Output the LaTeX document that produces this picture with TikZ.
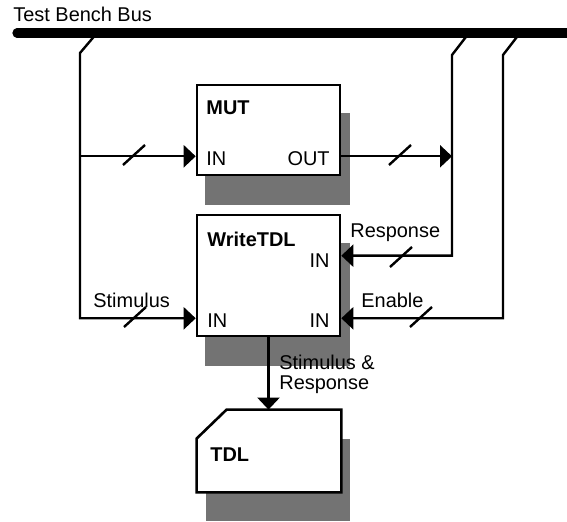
\documentclass[tikz,border=0pt]{standalone}
\usepackage{fontspec}
\setmainfont{Liberation Sans}
\usetikzlibrary{arrows.meta,calc,backgrounds}

\tikzset{
  block/.style={draw, fill=white, rectangle, inner sep=0pt, line width=1.3bp},
  shadowfill/.style={fill=black!55},
  wire/.style={line width=1.2bp},
  sig/.style={wire, -{Triangle[length=6bp,width=11bp]}},
  lbl/.style={anchor=base west, inner sep=0pt, font=\fontsize{10}{10.5}\selectfont},
  blockname/.style={lbl, font=\fontsize{10}{10.5}\selectfont\bfseries},
  buswidth/.pic={\draw[wire] (-5.5bp,-5bp) -- (5.5bp,5bp);}
}

\begin{document}
\begin{tikzpicture}[x=0.5bp, y=0.5bp]
  \useasboundingbox (0,0) rectangle (567,522);
  % test bench bus
  \coordinate (busL) at (17,489);
  \coordinate (busR) at (567,489);
  \draw[line width=4.6bp, line cap=round] (busL) -- (busR);
  \node[lbl] (buslbl) at (13,500) {Test Bench Bus};

  % blocks
  \node[block, minimum width=71.5bp, minimum height=45bp] (mut) at (268.5,392) {};
  \node[block, minimum width=71.5bp, minimum height=60.5bp] (wtdl) at (268.5,246.5) {};
  \node[inner sep=0pt, minimum width=72bp, minimum height=41bp] (tdl) at (269,71) {};
  % file shape with cut corner
  \filldraw[block] (tdl.south west) -- ($(tdl.north west)+(0,-29)$)
    -- ($(tdl.north west)+(30,0)$) -- (tdl.north east) -- (tdl.south east) -- cycle;

  % drop shadows
  \begin{scope}[on background layer]
    \foreach \b in {mut,wtdl,tdl}
      \fill[shadowfill] ([shift={(9,-29)}]\b.south west) rectangle ([shift={(9,-29)}]\b.north east);
  \end{scope}

  % block texts
  \node[blockname] (mutlbl) at (206,407) {MUT};
  \node[lbl] (mutin) at (206,356) {IN};
  \node[lbl, anchor=base east] (mutout) at (330,356) {OUT};
  \node[blockname] (wtdllbl) at (207,275) {WriteTDL};
  \node[lbl, anchor=base east] (wrespin) at (330,254) {IN};
  \node[lbl] (wstimin) at (207,194) {IN};
  \node[lbl, anchor=base east] (wenin) at (330,194) {IN};
  \node[blockname] (tdllbl) at (210,60) {TDL};

  % ports and bus taps
  \coordinate (mutIn) at ($(mut.south west)+(0,20)$);
  \coordinate (mutOut) at ($(mut.south east)+(0,20)$);
  \coordinate (respIn) at ($(wtdl.north east)+(0,-42)$);
  \coordinate (enIn) at ($(wtdl.south east)+(0,19)$);
  \coordinate (stimIn) at ($(wtdl.south west)+(0,19)$);
  \coordinate (tapS) at (97,489);
  \coordinate (tapR) at (469,489);
  \coordinate (tapE) at (520,489);
  \coordinate (dropS) at ($(tapS)+(-17,-20)$);
  \coordinate (dropR) at ($(tapR)+(-17,-22)$);
  \coordinate (dropE) at ($(tapE)+(-17,-22)$);

  % signals
  \draw[sig] (tapS) -- (dropS) |- (stimIn);
  \draw[sig] (dropS |- mutIn) -- (mutIn);
  \draw[sig] (mutOut) -- (dropR |- mutOut);
  \draw[sig] (tapR) -- (dropR) |- (respIn);
  \draw[sig] (tapE) -- (dropE) |- (enIn);
  \draw[sig] (wtdl.south) -- (wtdl.south |- tdl.north);

  % bus width marks
  \pic at (134,367) {buswidth};
  \pic at (400,367) {buswidth};
  \pic at (401,265) {buswidth};
  \pic at (421,205) {buswidth};
  \pic at (135,205) {buswidth};

  % signal names
  \node[lbl] (resplbl) at (350,284) {Response};
  \node[lbl] (enlbl) at (361,214) {Enable};
  \node[lbl] (stimlbl) at (93,214) {Stimulus};
  \node[lbl, align=left] (outlbl) at (279,132) {Stimulus \&\\Response};
\end{tikzpicture}
\end{document}
